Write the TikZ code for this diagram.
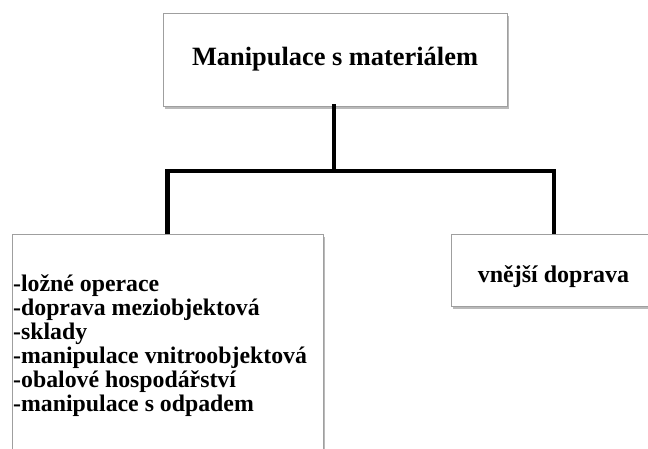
\documentclass[tikz,border=0pt]{standalone}
\usepackage{fontspec}
\setmainfont{Liberation Serif}
\usetikzlibrary{shadows}
\begin{document}
\begin{tikzpicture}[x=1pt,y=-1pt,
  box/.style={draw=gray!75, line width=0.9pt, fill=white, inner sep=0pt,
    drop shadow={shadow xshift=1.5pt, shadow yshift=-2.5pt, opacity=0.6, fill=gray!90}},
  conn/.style={line width=4.5pt, line join=miter, line cap=rect},
  titletext/.style={font=\fontsize{26.4}{28}\selectfont\bfseries},
  listtext/.style={font=\fontsize{23.8}{24.1}\selectfont\bfseries, align=left, inner sep=0pt, anchor=base west},
  sidetext/.style={font=\fontsize{24}{26}\selectfont\bfseries, inner sep=0pt, anchor=base}
]
\useasboundingbox (0,0) rectangle (648,448);
\clip (0,0) rectangle (648,448);
\coordinate (bus) at (334,171);
\node[box, minimum width=344pt, minimum height=93pt, titletext] (top) at (335,59.5) {Manipulace s materiálem};
\node[box, minimum width=311pt, minimum height=240pt, anchor=north] (left) at (167.5,234) {};
\node[listtext] (lefttext) at (13,411.5) {-ložné operace\\-doprava meziobjektová\\-sklady\\-manipulace vnitroobjektová\\-obalové hospodářství\\-manipulace s odpadem};
\node[box, minimum width=206pt, minimum height=72pt, anchor=north] (right) at (554,234) {};
\node[sidetext] (righttext) at (553.5,282) {vnější doprava};
\draw[conn] (top.south -| bus) -- (bus);
\draw[conn, line cap=butt] (left.north) -- (left.north |- bus) -- (right.north |- bus) -- (right.north);
\end{tikzpicture}
\end{document}
